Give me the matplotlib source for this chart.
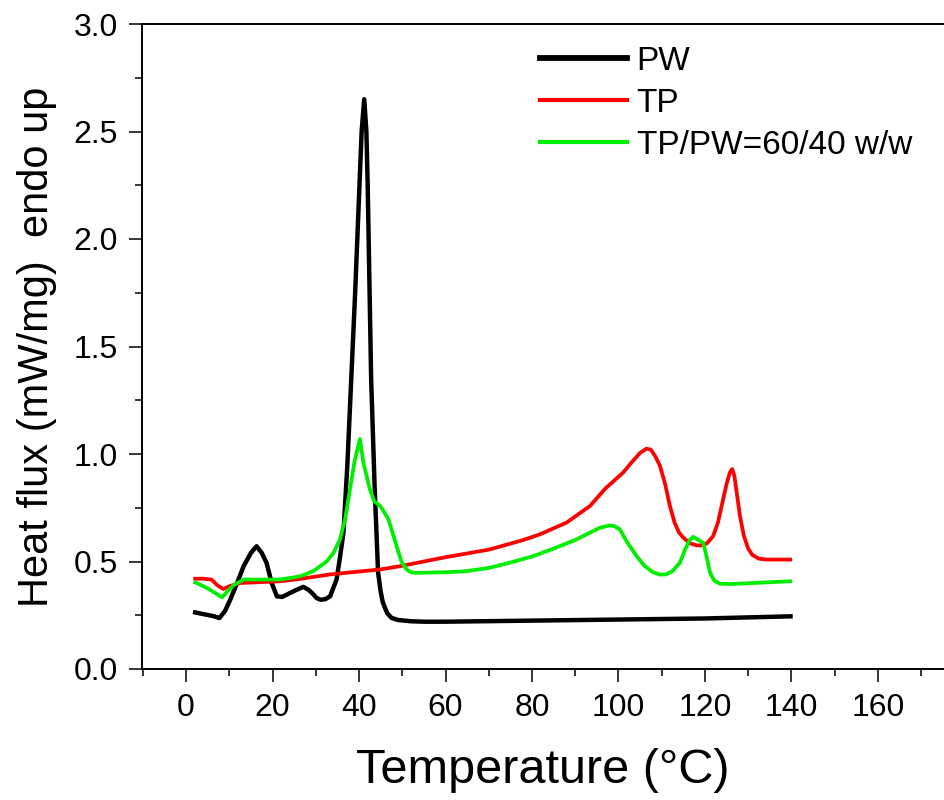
"""
DSC curves: PW, TP and TP/PW blend
"""

import matplotlib
matplotlib.use("Agg")
import matplotlib.pyplot as plt
from matplotlib.ticker import MultipleLocator, FormatStrFormatter

plt.rcParams['font.family'] = ['Liberation Sans', 'DejaVu Sans']

# PW (paraffin wax)
pw_t = [2.1, 4.8, 6.5, 7.7, 9.0, 10.2, 11.8, 13.3, 15.0, 16.3, 17.5, 18.6,
        19.8, 21.0, 22.2, 23.3, 25.2, 27.1, 28.2, 29.1, 30.2, 31.1, 32.2,
        33.3, 34.8, 35.6, 36.4, 37.3, 38.2, 39.1, 40.0, 40.6, 41.2, 41.7,
        42.0, 42.4, 42.8, 43.6, 44.4, 45.0, 45.5, 46.5, 47.5, 49.0, 52.0,
        55.0, 60.0, 80.0, 100.0, 120.0, 139.8]
pw_q = [0.263, 0.252, 0.245, 0.237, 0.27, 0.322, 0.40, 0.478, 0.54, 0.571,
        0.54, 0.494, 0.40, 0.338, 0.335, 0.346, 0.365, 0.382, 0.37, 0.354,
        0.33, 0.322, 0.325, 0.338, 0.416, 0.52, 0.635, 0.95, 1.35, 1.75, 2.2,
        2.5, 2.65, 2.5, 2.25, 1.8, 1.35, 0.85, 0.45, 0.36, 0.31, 0.26, 0.238,
        0.228, 0.222, 0.22, 0.22, 0.225, 0.23, 0.235, 0.245]

# TP
tp_t = [2.1, 4.0, 5.9, 7.2, 8.6, 10.0, 12.5, 21.7, 26.4, 33.3, 44.9, 50.0,
        60.0, 70.0, 78.0, 81.8, 88.0, 93.4, 97.0, 101.1, 103.0, 105.0, 106.5,
        107.5, 108.5, 109.6, 110.8, 111.9, 113.0, 114.0, 115.0, 116.5, 118.1,
        119.5, 120.5, 121.9, 123.0, 124.0, 125.0, 125.8, 126.3, 126.8, 127.5,
        128.1, 129.0, 130.0, 131.0, 132.5, 134.3, 139.7]
tp_q = [0.42, 0.42, 0.416, 0.39, 0.372, 0.385, 0.40, 0.408, 0.419, 0.44,
        0.463, 0.48, 0.52, 0.555, 0.60, 0.626, 0.681, 0.758, 0.84, 0.914,
        0.96, 1.005, 1.025, 1.02, 0.99, 0.945, 0.86, 0.758, 0.68, 0.635,
        0.611, 0.585, 0.575, 0.575, 0.585, 0.618, 0.68, 0.77, 0.86, 0.915,
        0.93, 0.90, 0.80, 0.712, 0.62, 0.56, 0.53, 0.513, 0.509, 0.509]

# TP/PW = 60/40 w/w
mix_t = [2.1, 4.0, 5.5, 7.0, 8.3, 9.5, 11.0, 13.3, 21.7, 26.4, 29.4, 31.0,
         32.5, 34.1, 35.6, 36.8, 37.9, 39.0, 40.2, 41.0, 42.5, 43.5, 44.9,
         45.8, 46.8, 47.8, 48.7, 49.8, 51.0, 52.0, 53.3, 60.0, 64.9, 70.0,
         75.0, 80.3, 85.0, 90.0, 95.7, 98.0, 99.0, 100.3, 102.0, 104.2, 106.0,
         108.0, 109.6, 111.0, 112.5, 114.2, 115.5, 116.5, 117.3, 118.5, 119.6,
         120.3, 121.2, 122.2, 123.5, 126.0, 139.7]
mix_q = [0.403, 0.385, 0.369, 0.35, 0.333, 0.36, 0.39, 0.416, 0.416, 0.431,
         0.455, 0.478, 0.50, 0.54, 0.603, 0.70, 0.836, 0.97, 1.07, 0.96,
         0.836, 0.78, 0.758, 0.73, 0.696, 0.63, 0.571, 0.50, 0.463, 0.45,
         0.447, 0.45, 0.455, 0.47, 0.495, 0.525, 0.56, 0.60, 0.657, 0.668,
         0.665, 0.65, 0.59, 0.525, 0.48, 0.45, 0.439, 0.44, 0.455, 0.494,
         0.56, 0.60, 0.615, 0.60, 0.587, 0.53, 0.447, 0.41, 0.397, 0.395,
         0.408]

fig = plt.figure(figsize=(9.44, 8.0), dpi=100)
ax = fig.add_axes([142 / 944, 1 - 669 / 800, 1 - 142 / 944, (669 - 24) / 800])

ax.plot(pw_t, pw_q, color='black', linewidth=3.2, label='PW',
        solid_joinstyle='round')
ax.plot(tp_t, tp_q, color='#ff0000', linewidth=2.7, label='TP',
        solid_joinstyle='round')
ax.plot(mix_t, mix_q, color='#00ee00', linewidth=2.7,
        label='TP/PW=60/40 w/w', solid_joinstyle='round')

ax.set_xlim(-10.2, 175.3)
ax.set_ylim(0.0, 3.0)

ax.xaxis.set_major_locator(MultipleLocator(20))
ax.xaxis.set_minor_locator(MultipleLocator(10))
ax.yaxis.set_major_locator(MultipleLocator(0.5))
ax.yaxis.set_minor_locator(MultipleLocator(0.25))
ax.yaxis.set_major_formatter(FormatStrFormatter('%.1f'))
ax.set_xticks([0, 20, 40, 60, 80, 100, 120, 140, 160])

ax.tick_params(which='major', direction='out', length=9.4, width=1.1,
               labelsize=23, pad=8)
ax.tick_params(which='minor', direction='out', length=5, width=1.1)
ax.tick_params(top=False, right=False, which='both')

for side in ['left', 'bottom', 'top']:
    ax.spines[side].set_linewidth(1.4)
ax.spines['right'].set_visible(False)

ax.set_xlabel('Temperature (°C)', fontsize=35, labelpad=18)
ax.set_ylabel('Heat flux (mW/mg)  endo up', fontsize=30, labelpad=12)

leg = ax.legend(loc='upper left', bbox_to_anchor=(540 / 944, 1 - 46 / 800),
                bbox_transform=fig.transFigure, frameon=False, fontsize=24,
                handlelength=2.6, handletextpad=0.3, labelspacing=0.33,
                borderpad=0, borderaxespad=0)
leg.get_lines()[0].set_linewidth(4.2)
leg.get_lines()[1].set_linewidth(3.0)
leg.get_lines()[2].set_linewidth(3.0)

fig.savefig('out.png', dpi=100)
